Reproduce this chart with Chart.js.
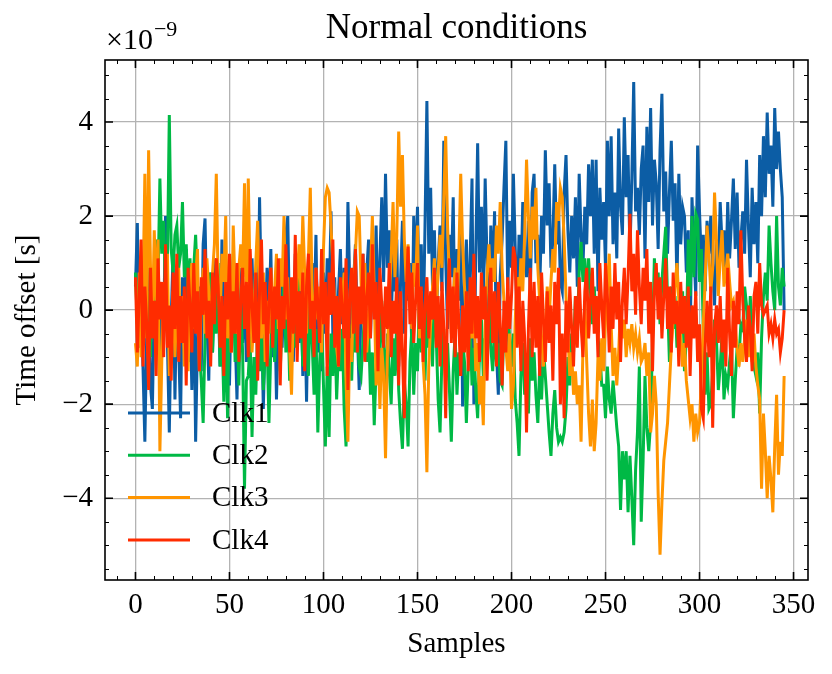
<!DOCTYPE html>
<html>
<head>
<meta charset="utf-8">
<title>Normal conditions</title>
<script src="https://cdn.jsdelivr.net/npm/chart.js@4.4.1/dist/chart.umd.min.js"></script>
<style>
  html, body { margin: 0; padding: 0; background: #fff; }
  #wrap { width: 832px; height: 674px; position: relative; }
</style>
</head>
<body>
<div id="wrap"><canvas id="chart"></canvas></div>
<script>
// time offsets, in units of 1e-9 s (the axis carries the ×10⁻⁹ multiplier)
const clk1 = [
  0.5, 1.85, -0.8, 0.3, -1.2, -2.8, -0.5, 0.9, -1.6, -2.1,
  0.2, -0.9, 1.1, -1.4, 0.6, -0.3, 2.0, -0.7, -2.6, -0.2,
  1.2, -1.9, 0.4, -0.8, -2.3, 0.7, -0.4, 1.3, -1.1, 0.2,
  -1.7, 0.9, -2.8, -0.6, 0.5, -1.3, 1.4, 1.95, -0.2, -1.5,
  0.8, -0.9, 1.1, -0.4, 0.3, -1.2, 1.5, 0.1, -0.8, 0.6,
  -1.6, 0.4, 1.2, -0.5, -1.9, 0.2, 0.9, -0.7, 0.5, -1.1,
  0.3, -0.9, 1.1, -0.3, 0.8, -1.2, 2.4, 0.2, -2.1, -0.5,
  0.9, -0.2, 1.3, -1.0, 0.4, -1.9, -0.3, 0.7, -0.8, 0.5,
  1.6, 2.0, -0.4, 0.6, -1.1, 1.2, 0.1, -0.7, 0.9, -1.4,
  0.2, -1.95, 0.5, -0.6, 1.0, -0.2, 1.6, -0.9, 0.3, -1.3,
  0.8, -0.5, 1.1, 0.0, 2.1, -0.6, 0.7, -1.2, 0.4, 1.3,
  -0.3, 0.9, -0.8, 2.3, 0.5, -1.0, 0.6, 1.4, -0.4, -1.7,
  0.2, 1.2, -0.5, 0.8, 1.5, -0.6, 1.0, 0.3, 1.8, -0.4,
  1.1, 2.4, 0.6, 2.9, 0.9, 1.7, -0.3, 1.2, 0.4, 1.5,
  -1.2, 0.6, 1.9, -0.5, 1.3, 0.2, 1.0, -0.9, 2.0, 0.7,
  2.2, 0.1, 1.4, -0.6, 1.8, 4.45, 1.2, 2.6, 0.5, 1.7,
  -0.2, 1.0, 1.8, 0.4, 3.6, 1.1, -0.4, 1.6, 0.7, 2.4,
  -0.8, 1.3, 0.2, 1.9, -2.05, 0.6, 1.5, -0.3, 1.1, 2.8,
  -2.0, 1.2, 3.55, 0.8, 2.2, 0.3, 2.8, 1.0, -0.4, 1.8,
  0.6, 2.1, -0.9, -1.8, 0.7, 1.5, 2.6, 3.6, 0.4, 1.9,
  0.9, 2.9, 1.3, -0.2, 1.6, 0.5, 2.3, 1.1, 0.7, 1.9,
  0.3, 2.5, 2.9, 1.0, 1.6, 0.4, 2.0, 1.2, 3.4, 1.8,
  2.7, 0.9, 1.5, 3.1, 1.4, 2.2, 0.6, 0.4, 2.5, 3.3,
  1.7, 0.8, 2.0, 1.1, 2.4, 0.5, 2.9, 1.6, 0.9, 2.2,
  1.4, 3.1, 2.0, 3.2, 1.2, 3.2, 0.4, 2.6, 1.5, 2.3,
  0.9, 3.6, 2.0, 3.7, 1.4, 2.5, 1.1, 3.86, 2.2, 1.6,
  4.1, 2.4, 3.3, 1.2, 2.8, 4.85, 2.1, 2.6, 1.6, 3.0,
  3.5, 1.1, 3.9, 2.3, 4.3, 1.8, 3.2, 2.7, 1.3, 3.4,
  4.6, 2.1, 2.95, 1.2, 2.5, 3.6, 1.9, 2.7, 0.5, 2.9,
  1.4, 2.2, 2.0, 0.8, 1.7, -0.85, 2.4, 1.3, 0.3, 3.5,
  2.1, 1.0, 1.6, 0.4, 1.9, 1.2, 2.0, 0.9, 0.1, 1.5,
  0.8, 2.3, 1.4, 1.7, 0.6, 2.3, 1.1, 1.9, 2.8, 1.3,
  2.5, 0.9, 1.5, 2.1, 1.2, 3.2, 1.8, 0.7, 2.6, 1.4,
  2.3, 1.0, 3.3, 2.0, 3.7, 2.4, 4.2, 2.9, 3.5, 2.2,
  4.3, 3.0, 3.8, 3.0, 2.4, 0.0
];

const clk2 = [
  0.8, -0.3, 0.6, -0.8, 0.2, 1.1, -0.5, 0.4, -1.0, 0.9,
  0.1, 1.5, 0.6, 2.8, 1.2, 1.9, 0.4, 1.0, 4.15, 1.3,
  0.8, 1.6, 1.8, 0.9, 1.2, 2.3, 0.7, 1.4, 0.3, 1.1,
  -0.4, 0.9, 1.6, 0.5, -0.8, -1.5, -2.4, -0.6, 0.5, -0.3,
  0.8, -0.9, 0.2, -0.5, 1.0, -1.2, -0.4, -1.95, -0.2, -2.3,
  0.3, -0.7, 0.6, -1.1, -0.3, -1.6, 0.2, -0.9, -3.8, -1.5,
  -1.4, -0.6, -2.7, -1.0, -1.8, -0.4, -1.3, -0.2, -1.7, -0.9,
  -0.6, -2.4, -0.8, 0.3, -1.1, -0.4, 0.5, -1.3, -0.2, 0.7,
  -0.9, 0.2, -1.5, -0.3, 0.6, -0.8, 1.2, -0.5, 0.1, -1.2,
  0.4, -0.6, -1.4, 0.3, -0.7, -1.8, -0.4, -2.6, -1.1, -0.3,
  -1.6, -2.9, -1.2, -2.7, -0.5, -1.4, -0.2, -1.9, -0.8, -1.3,
  -0.4, -2.1, -2.9, -1.0, -0.3, -1.5, 0.2, -0.9, -0.5, -1.2,
  -1.4, -0.7, 0.1, -1.1, -0.4, -1.8, -0.9, -2.45, -1.2, -0.3,
  -1.0, 0.2, -0.8, -1.6, -0.5, -1.3, -2.0, -0.6, -1.4, -0.2,
  -1.7, -2.4, -2.95, -1.5, -2.0, -2.9, -1.1, -0.4, -1.8, -0.7,
  -1.3, 0.3, -0.9, -0.2, -1.5, 0.1, -0.8, -0.3, -1.2, 0.5,
  -0.6, -1.9, -2.6, -1.0, -0.4, -1.5, -0.7, -1.7, -2.8, -1.3,
  -0.5, -1.8, -0.9, -1.4, -0.6, -1.1, -2.4, -1.2, -0.3, -1.6,
  -0.8, -1.7, -2.3, -0.9, -0.2, -1.4, -0.6, -1.0, 0.1, -0.8,
  -1.3, -0.4, -1.1, -0.7, -1.5, -1.6, -0.3, -0.9, 0.2, -0.6,
  -1.2, -0.5, -1.9, -2.4, -3.1, -1.4, -0.7, -1.8, -1.0, -2.2,
  -0.6, -1.5, -0.9, -1.8, -2.4, -1.2, -1.9, -0.8, -1.4, -2.0,
  -2.6, -3.1, -2.2, -1.7, -2.5, -2.8, -2.7, -2.8, -2.6, -2.1,
  -1.0, -1.6, -0.5, -0.9, 0.3, -0.4, 0.8, 1.45, 0.6, 1.1,
  0.2, 1.1, 0.4, -0.3, 0.5, -0.2, -0.6, -0.9, -1.6, -1.6,
  -2.3, -1.2, -1.9, -2.2, -1.5, -2.0, -2.5, -2.9, -4.25, -3.0,
  -3.6, -3.0, -4.3, -3.1, -4.0, -5.0, -3.4, -2.6, -1.2, -4.5,
  -3.2, -1.4, -2.5, -3.0, -2.4, -0.6, 1.1, 0.4, 0.8, -0.3,
  0.6, 1.2, 1.77, 0.2, -1.1, 0.5, -0.4, 0.3, -0.8, 0.1,
  -0.5, 0.4, -1.3, -0.6, 1.5, 0.3, 2.0, 0.7, 2.05, 1.93,
  0.6, 1.3, -0.4, -1.8, -0.9, -2.1, -2.0, -1.3, -0.2, -0.6,
  -1.7, -1.2, -0.5, -1.9, -1.4, -1.6, -1.1, -0.7, -2.3, -1.5,
  -0.8, -1.0, -0.3, -0.4, 0.5, 0.1, -0.8, 0.3, -0.5, -1.2,
  -1.4, -0.9, -2.2, -0.6, 0.3, 0.8, 0.2, 1.8, 1.0, 0.4,
  0.0, 2.0, 0.5, 0.1, 0.9, 0.5
];

const clk3 = [
  -0.7, -1.2, 0.8, -1.0, 0.3, 2.9, -0.6, 3.4, 0.9, -0.4,
  1.7, 0.2, 1.5, -3.0, -1.1, 0.6, -0.3, 1.2, -1.4, -0.5,
  0.4, -1.0, 0.1, 0.9, -0.7, 0.3, -1.2, -0.2, -1.3, 0.5,
  1.0, -0.4, 0.7, 1.3, -1.3, 0.2, 0.9, -0.5, 1.1, 0.4,
  -0.8, 0.8, 1.4, 2.9, 0.5, -0.2, 1.2, 0.6, 2.0, -0.6,
  0.3, -0.9, 1.8, 0.4, -0.5, 0.9, 1.4, 0.7, 2.7, -0.3,
  2.8, 0.6, -0.9, -0.1, 1.0, 1.9, 0.3, -0.6, 0.8, -1.1,
  0.2, -0.5, 0.9, -0.3, 0.4, 1.2, -0.4, 1.1, 0.5, 2.0,
  -0.2, 0.7, -0.8, -1.8, 0.1, -0.3, 0.6, 1.4, 0.4, 2.0,
  0.8, -0.5, 1.1, 2.6, 0.3, -0.6, 0.9, -0.2, 0.5, -0.9,
  1.3, 2.4, 2.6, 2.5, 1.8, 0.9, 0.1, -0.8, -1.2, 0.4,
  0.2, 0.8, -1.5, -2.8, -0.6, -1.1, 0.5, 1.2, 2.1, 2.0,
  0.6, -0.2, 1.0, -0.9, -0.3, 0.8, 2.0, 0.4, -1.6, -0.5,
  -2.1, -0.8, -1.4, -3.15, -0.9, 0.3, 1.1, 2.3, 0.7, 1.6,
  3.8, 2.2, 3.3, 1.5, 0.6, 1.4, 0.2, -0.4, 1.0, 0.5,
  1.8, -0.6, 0.4, -1.1, -1.8, -3.45, -1.2, -0.3, 0.5, 1.1,
  0.0, 0.8, 1.6, 0.9, 2.4, 3.7, 1.8, 0.6, -0.5, 0.3,
  0.9, -0.4, 1.2, 2.9, 1.4, 0.5, -0.2, -1.0, 0.4, -0.6,
  0.2, -1.3, -0.7, -2.0, -1.4, -2.45, -0.3, 0.8, 1.4, 0.5,
  1.1, 0.6, 1.8, 1.2, 2.3, 0.9, 0.2, -0.8, -1.3, -0.5,
  -2.1, -1.6, -0.2, 0.7, 0.1, 1.1, 0.4, 1.6, 3.2, 2.0,
  1.1, 2.2, 1.5, 2.6, 0.9, 0.2, -0.6, -1.2, -0.4, 0.5,
  -0.2, 0.6, 1.3, 0.8, 2.3, 1.9, 2.6, 2.4, 1.5, 0.3,
  -0.5, -1.4, -0.9, -1.8, -1.3, -2.0, -1.6, -2.8, -0.8, 0.2,
  -1.1, -2.2, -2.9, -1.9, -3.0, -2.4, -1.0, -1.5, -0.6, -1.3,
  -0.2, 0.5, 1.2, -0.3, -1.4, -0.8, -1.6, -0.9, 0.1, -0.6,
  -0.2, -1.0, -0.4, -0.7, -0.3, -0.8, -0.5, -0.9, -0.6, -1.1,
  -1.0, -0.7, -1.4, -0.9, -2.6, -2.2, -1.4, -2.0, -3.9, -5.2,
  -4.1, -3.2, -2.8, -2.4, -1.6, -0.8, -0.2, 0.5, 1.0, 0.2,
  -0.6, -1.2, -0.7, -1.5, -1.9, -2.3, -2.0, -2.8, -2.2, -2.6,
  -2.4, -1.4, -0.3, 0.6, 1.8, 1.2, 0.4, 0.9, 2.5, 1.5,
  0.3, 1.1, 1.7, 0.5, 0.8, 1.2, 0.6, 0.1, 0.2, -0.3,
  -0.8, -1.2, -0.7, -1.1, -0.6, -0.2, -1.0, -0.4, -1.1, -0.5,
  -1.2, -1.6, -1.9, -3.8, -2.2, -3.0, -4.0, -3.1, -3.6, -4.3,
  -2.9, -1.8, -3.5, -2.8, -3.1, -1.4
];

const clk4 = [
  0.7, -0.9, 0.3, 1.5, -1.2, 0.5, -0.3, -1.7, 0.9, -0.6,
  0.2, -1.4, 1.1, -0.2, 0.6, -1.0, 1.4, -0.8, 0.1, -1.5,
  0.8, -0.4, 1.2, -1.1, 0.3, -0.7, 0.5, -1.6, 0.9, 0.1,
  -0.9, 1.0, -0.5, 0.4, -1.3, 0.7, -0.1, 1.3, -0.6, 0.2,
  -1.2, 0.8, -0.3, 1.1, 0.5, -0.8, 0.3, -1.4, 0.6, -0.2,
  1.2, -0.9, 0.4, -0.5, 1.0, -1.1, 0.2, 0.9, -0.4, 0.6,
  -1.0, 1.3, 0.1, -0.7, 0.8, -1.5, 0.4, 1.5, -0.3, 0.6,
  -1.2, 0.2, 0.9, -0.8, 0.5, -0.2, 1.1, -1.6, 0.3, -0.4,
  1.4, 0.0, -0.9, 0.7, -0.5, 1.6, -1.1, 0.4, -0.6, 0.8,
  -1.3, 0.5, 1.2, -0.4, 0.2, -1.0, 0.9, 0.1, -0.7, 1.3,
  -0.3, 0.6, -1.4, 0.8, -0.1, 1.5, -0.8, 0.3, -1.2, 0.7,
  0.0, -0.6, 1.1, -1.7, 0.4, 0.9, -0.5, 1.3, -0.9, 0.5,
  -0.3, 1.2, -1.1, 0.3, 0.8, -0.6, 1.4, -0.2, 0.6, -1.3,
  0.9, 0.1, -0.8, 0.5, -0.4, 1.0, -1.0, 0.2, -0.5, 0.7,
  -1.6, 0.4, -0.9, -2.3, 0.3, 1.35, -0.3, 0.8, -0.7, 0.2,
  1.0, -0.4, 0.5, -1.1, 0.1, 0.7, -0.6, 0.4, -0.2, 0.9,
  -0.8, 0.3, -1.2, 0.6, -0.4, -2.3, 0.2, 1.1, -0.7, 0.5,
  -1.0, 0.8, -0.3, -1.4, 0.1, -0.9, 0.4, -1.3, 0.7, -0.5,
  1.2, -0.6, 0.3, -1.1, 0.8, -0.2, 0.5, -1.5, 0.1, 0.9,
  -0.7, 0.4, -1.2, 0.6, -0.3, -1.6, 0.2, -0.9, 0.7, -0.4,
  0.3, 1.35, 1.1, -0.8, 0.5, -1.3, 0.2, -0.6, -2.6, -0.4,
  0.9, -1.0, 0.6, -0.8, 0.3, -1.4, 0.8, -0.2, -1.1, 0.4,
  -0.7, 0.1, -1.5, 0.6, -0.3, 0.9, -2.0, -0.5, -2.3, 0.2,
  -0.9, 0.5, -0.4, -1.2, 0.3, -0.8, 0.7, -0.3, -1.0, 0.4,
  0.9, -0.6, 0.2, 0.9, -0.5, 0.3, -1.0, 1.0, 0.1, -0.6,
  1.0, 0.3, -0.9, 0.5, -0.4, 1.0, -0.2, 0.6, -1.1, 0.2,
  0.9, -0.3, 0.7, 2.05, 0.4, 1.2, -0.1, 1.7, 0.5, -0.3,
  0.9, 0.2, 1.3, -0.5, 0.6, -1.3, 0.4, 1.0, -0.2, 0.7,
  -0.6, 0.3, 1.1, -0.4, 0.5, -0.9, 0.8, -0.3, 0.2, -1.2,
  0.6, -0.5, 0.3, -0.8, 0.5, -1.4, 0.1, -0.6, 0.4, -1.1,
  -0.3, -2.1, -2.3, -0.8, 0.2, -1.0, 0.5, -2.5, -0.4, 0.1,
  -0.7, 0.3, -0.9, -0.2, -1.2, 0.9, -0.5, -1.4, 0.2, -0.8,
  0.4, -0.3, 1.7, 0.2, -0.6, -1.1, 0.1, -0.4, -1.3, 0.3,
  0.6, -0.5, 1.0, 0.1, -0.1, 0.0, 0.1, -0.5, -0.3, -0.6,
  -0.2, -0.5, -0.4, -0.9, -0.6, 0.0
];

const labels = ['Clk1', 'Clk2', 'Clk3', 'Clk4'];
const colors = ['#0C5DA5', '#00B945', '#FF9500', '#FF2C00'];
const xTicks = [0, 50, 100, 150, 200, 250, 300, 350];
const yTicks = [-4, -2, 0, 2, 4];

const SERIF = "'Liberation Serif', 'Times New Roman', serif";

const toPoints = arr => arr.map((v, i) => ({ x: i, y: v }));

// inward ticks on all four sides + black frame
const frameTicks = {
  id: 'frameTicks',
  afterDatasetsDraw(chart) {
    const { ctx, chartArea: a, scales: { x, y } } = chart;
    ctx.save();
    ctx.strokeStyle = '#000';

    ctx.lineWidth = 1;
    ctx.beginPath();
    for (let v = -10; v <= 360; v += 10) {
      if (v % 50 === 0) continue;
      const px = Math.round(x.getPixelForValue(v)) + 0.5;
      if (px <= a.left || px >= a.right) continue;
      ctx.moveTo(px, a.bottom); ctx.lineTo(px, a.bottom - 4);
      ctx.moveTo(px, a.top); ctx.lineTo(px, a.top + 4);
    }
    for (let v = -5.5; v <= 5.5; v += 0.5) {
      if (v % 2 === 0) continue;
      const py = Math.round(y.getPixelForValue(v)) + 0.5;
      if (py <= a.top || py >= a.bottom) continue;
      ctx.moveTo(a.left, py); ctx.lineTo(a.left + 4, py);
      ctx.moveTo(a.right, py); ctx.lineTo(a.right - 4, py);
    }
    ctx.stroke();

    ctx.lineWidth = 1.6;
    ctx.beginPath();
    for (const v of xTicks) {
      const px = x.getPixelForValue(v);
      ctx.moveTo(px, a.bottom); ctx.lineTo(px, a.bottom - 8);
      ctx.moveTo(px, a.top); ctx.lineTo(px, a.top + 8);
    }
    for (const v of yTicks) {
      const py = y.getPixelForValue(v);
      ctx.moveTo(a.left, py); ctx.lineTo(a.left + 8, py);
      ctx.moveTo(a.right, py); ctx.lineTo(a.right - 8, py);
    }
    ctx.stroke();

    ctx.lineWidth = 1.6;
    ctx.strokeRect(a.left, a.top, a.right - a.left, a.bottom - a.top);
    ctx.restore();
  },
  afterDraw(chart) {
    const { ctx, chartArea: a } = chart;
    ctx.save();
    // offset multiplier
    ctx.fillStyle = '#000';
    ctx.textBaseline = 'alphabetic';
    ctx.textAlign = 'left';
    ctx.font = `30px ${SERIF}`;
    ctx.fillText('×10', a.left + 1, a.top - 11);
    const w = ctx.measureText('×10').width;
    ctx.font = `22px ${SERIF}`;
    ctx.fillText('−9', a.left + 1 + w + 1, a.top - 24);

    // legend, no frame, lower left inside the axes
    ctx.font = `29px ${SERIF}`;
    ctx.textBaseline = 'middle';
    chart.data.datasets.forEach((ds, i) => {
      const yy = a.top + 353 + i * 42.3;
      ctx.strokeStyle = ds.borderColor;
      ctx.lineWidth = 3;
      ctx.beginPath();
      ctx.moveTo(a.left + 23, yy);
      ctx.lineTo(a.left + 85, yy);
      ctx.stroke();
      ctx.fillStyle = '#000';
      ctx.fillText(ds.label, a.left + 107, yy + 1);
    });
    ctx.restore();
  }
};

const datasets = [clk1, clk2, clk3, clk4].map((arr, i) => ({
  label: labels[i],
  data: toPoints(arr),
  borderColor: colors[i],
  backgroundColor: colors[i],
  borderWidth: 3,
  pointRadius: 0,
  tension: 0,
  order: 4 - i   // later series drawn on top
}));

const minus = v => String(v).replace('-', '\u2212');

new Chart(document.getElementById('chart'), {
  type: 'line',
  data: { datasets },
  options: {
    responsive: true,
    maintainAspectRatio: false,
    devicePixelRatio: 1,
    animation: false,
    layout: { padding: { left: 0, right: 24, top: 0, bottom: 0 } },
    scales: {
      x: {
        type: 'linear',
        min: -16.2,
        max: 357.7,
        afterBuildTicks: s => { s.ticks = xTicks.map(v => ({ value: v })); },
        afterFit: s => { s.height = 94; },
        grid: { color: '#b3b3b3', lineWidth: 1.3, drawTicks: false },
        border: { display: false },
        ticks: {
          color: '#000', padding: 8, autoSkip: false, maxRotation: 0,
          font: { family: SERIF, size: 29 },
          callback: v => minus(v)
        },
        title: {
          display: true, text: 'Samples', color: '#000',
          font: { family: SERIF, size: 29 },
          padding: { top: 0, bottom: 12 }
        }
      },
      y: {
        min: -5.74,
        max: 5.32,
        afterBuildTicks: s => { s.ticks = yTicks.map(v => ({ value: v })); },
        afterFit: s => { s.width = 105; },
        grid: { color: '#b3b3b3', lineWidth: 1.3, drawTicks: false },
        border: { display: false },
        ticks: {
          color: '#000', padding: 12,
          font: { family: SERIF, size: 29 },
          callback: v => minus(v)
        },
        title: {
          display: true, text: 'Time offset [s]', color: '#000',
          font: { family: SERIF, size: 29 },
          padding: { top: 10, bottom: 0 }
        }
      }
    },
    plugins: {
      legend: { display: false },
      tooltip: { enabled: false },
      title: {
        display: true,
        text: 'Normal conditions',
        color: '#000',
        fullSize: false,
        font: { family: SERIF, size: 35, weight: 'normal' },
        padding: { top: 8, bottom: 10 }
      }
    }
  },
  plugins: [frameTicks]
});
</script>
</body>
</html>
